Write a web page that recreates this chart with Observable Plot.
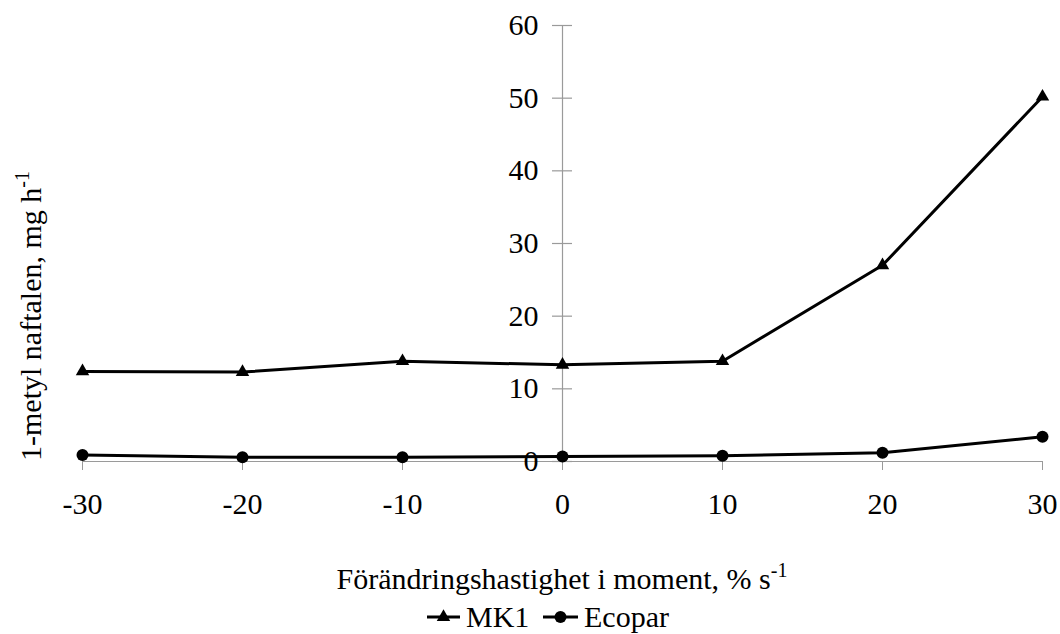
<!DOCTYPE html>
<html>
<head>
<meta charset="utf-8">
<script src="https://cdn.jsdelivr.net/npm/d3@7"></script>
<script src="https://cdn.jsdelivr.net/npm/@observablehq/plot@0.6"></script>
<style>
  html, body { margin: 0; padding: 0; background: #fff; }
  #chart { width: 1060px; height: 634px; }
  #chart svg text { font-family: "Liberation Serif", serif !important; }
</style>
</head>
<body>
<div id="chart"></div>
<script>
const xValues = [-30, -20, -10, 0, 10, 20, 30];
const mk1 = [12.4, 12.3, 13.8, 13.3, 13.8, 27.0, 50.2];
const ecopar = [0.9, 0.6, 0.6, 0.7, 0.8, 1.2, 3.4];
const yTicks = [0, 10, 20, 30, 40, 50, 60];
const xTicks = [-30, -20, -10, 0, 10, 20, 30];
const seriesNames = ["MK1", "Ecopar"];
const xTitle = "Förändringshastighet i moment, % s";
const yTitle = "1-metyl naftalen, mg h";
const supText = "-1";

const mk1Data = xValues.map((x, i) => ({x, y: mk1[i]}));
const ecoData = xValues.map((x, i) => ({x, y: ecopar[i]}));

const FONT = "Liberation Serif, serif";
const gray = "#9a9a9a";

const plot = Plot.plot({
  width: 1060,
  height: 634,
  marginLeft: 82,
  marginRight: 18,
  marginTop: 25,
  marginBottom: 173,
  x: {domain: [-30, 30]},
  y: {domain: [0, 60], axis: null},
  style: {fontFamily: FONT, fontSize: "30px", background: "#fff", color: "#000"},
  marks: [
    Plot.ruleY([0], {stroke: gray, strokeWidth: 1.2}),
    Plot.ruleX([0], {y1: 0, y2: 60, stroke: gray, strokeWidth: 1.2}),
    Plot.ruleY(yTicks, {x1: 0, x2: 0, insetLeft: -10, insetRight: -10, stroke: gray, strokeWidth: 1.2}),
    Plot.text(yTicks, {x: 0, y: d => d, text: d => String(d), dx: -24, textAnchor: "end", fill: "#000", fontSize: 30}),
    Plot.axisX(xTicks, {tickSize: 9, tickPadding: 22, stroke: gray, fill: "#000", tickFormat: d => String(d), label: null, fontSize: 30}),
    Plot.line(mk1Data, {x: "x", y: "y", stroke: "#000", strokeWidth: 3}),
    Plot.dot(mk1Data, {x: "x", y: "y", symbol: "triangle", r: 5, fill: "#000", stroke: "none"}),
    Plot.line(ecoData, {x: "x", y: "y", stroke: "#000", strokeWidth: 3}),
    Plot.dot(ecoData, {x: "x", y: "y", symbol: "circle", r: 6, fill: "#000", stroke: "none"})
  ]
});

document.getElementById("chart").appendChild(plot);

const svg = d3.select(plot);

// X axis title
const xt = svg.append("text")
  .attr("x", 562).attr("y", 589)
  .attr("text-anchor", "middle")
  .style("font-size", "30px").attr("fill", "#000");
xt.append("tspan").text(xTitle);
xt.append("tspan").attr("dy", -12).style("font-size", "20px").text(supText);

// Y axis title
const yt = svg.append("text")
  .attr("transform", "translate(41,316) rotate(-90)")
  .attr("text-anchor", "middle")
  .style("font-size", "30px").attr("fill", "#000");
yt.append("tspan").text(yTitle);
yt.append("tspan").attr("dy", -12).style("font-size", "20px").text(supText);

// Legend
const leg = svg.append("g");
const items = [
  {name: seriesNames[0], sym: d3.symbolTriangle, size: Math.PI * 5 * 5, x0: 427, x1: 460, tx: 466},
  {name: seriesNames[1], sym: d3.symbolCircle, size: Math.PI * 6 * 6, x0: 543, x1: 578, tx: 584}
];
const ly = 617;
items.forEach(it => {
  leg.append("line").attr("x1", it.x0).attr("x2", it.x1).attr("y1", ly).attr("y2", ly)
    .attr("stroke", "#000").attr("stroke-width", 3);
  leg.append("path").attr("d", d3.symbol(it.sym, it.size)())
    .attr("transform", `translate(${(it.x0 + it.x1) / 2},${ly})`).attr("fill", "#000");
  leg.append("text").attr("x", it.tx).attr("y", ly + 10)
    .attr("text-anchor", "start")
    .style("font-size", "30px").attr("fill", "#000").text(it.name);
});
</script>
</body>
</html>
